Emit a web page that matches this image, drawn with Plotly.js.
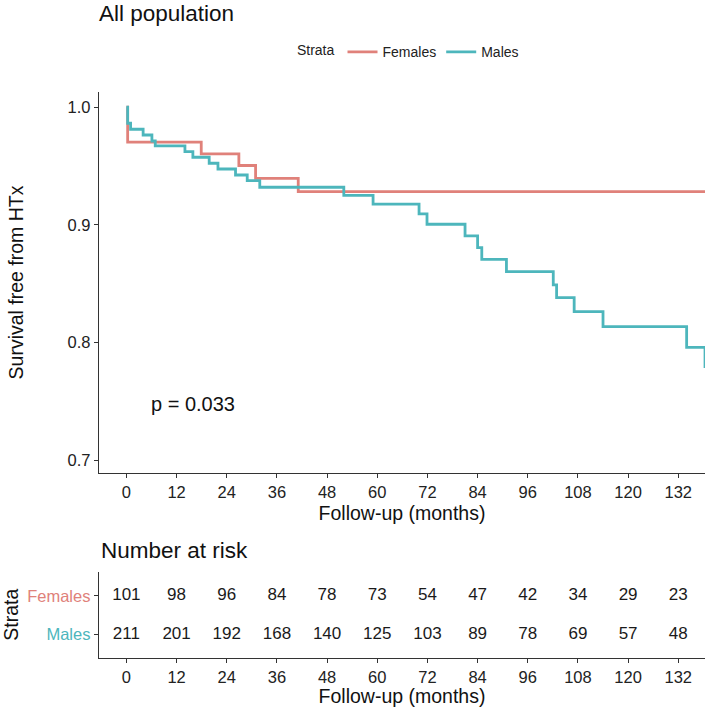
<!DOCTYPE html>
<html>
<head>
<meta charset="utf-8">
<script src="https://cdn.plot.ly/plotly-3.0.1.min.js"></script>
<style>html,body{margin:0;padding:0;background:#fff;}#chart{width:709px;height:707px;}</style>
</head>
<body>
<div id="chart"></div>
<script>
// Kaplan-Meier step data (time in months, survival after event)
const femTime = [0, 0.3, 17.9, 26.9, 30.9, 41.1, 138.5];
const femSurv = [1.0, 0.9703, 0.9604, 0.9505, 0.9396, 0.9282, 0.9282];

const maleTime = [0, 0.3, 1.0, 4.0, 6.1, 6.9, 14.0, 15.9, 19.8, 21.9, 26.1, 28.9, 31.9, 52.0, 59.0, 70.0, 71.9, 81.0, 84.0, 85.0, 90.9, 102.1, 102.9, 107.1, 114.0, 134.0, 138.4, 138.5];
const maleSurv = [1.0, 0.9864, 0.9813, 0.9764, 0.9713, 0.9671, 0.9622, 0.9575, 0.9524, 0.9475, 0.9424, 0.9376, 0.932, 0.925, 0.9177, 0.9093, 0.9005, 0.8906, 0.8806, 0.8707, 0.8602, 0.8489, 0.8381, 0.8262, 0.8134, 0.7959, 0.7794, 0.7794];

// Number at risk table
const riskTimes = [0, 12, 24, 36, 48, 60, 72, 84, 96, 108, 120, 132];
const riskFemales = [101, 98, 96, 84, 78, 73, 54, 47, 42, 34, 29, 23];
const riskMales = [211, 201, 192, 168, 140, 125, 103, 89, 78, 69, 57, 48];

const strataNames = ["Females", "Males"];
const yTickVals = [0.7, 0.8, 0.9, 1.0];
const yTickText = ["0.7", "0.8", "0.9", "1.0"];
const pText = "p = 0.033";

const colF = "#E0817A";
const colM = "#4DB6BC";
const font = "Liberation Sans, Arial, sans-serif";
const axCol = "#333333";
const tickFont = {family: font, size: 16.5, color: "#222"};
const axTitleFont = {family: font, size: 19.5, color: "#111"};

const traces = [
  {x: femTime, y: femSurv, type: "scatter", mode: "lines", line: {shape: "hv", color: colF, width: 2.8},
   name: strataNames[0], xaxis: "x", yaxis: "y"},
  {x: maleTime, y: maleSurv, type: "scatter", mode: "lines", line: {shape: "hv", color: colM, width: 2.8},
   name: strataNames[1], xaxis: "x", yaxis: "y"},
  {x: riskTimes, y: riskTimes.map(() => 2), text: riskFemales.map(String), type: "scatter", mode: "text",
   textfont: {family: font, size: 17, color: "#1a1a1a"}, showlegend: false, xaxis: "x2", yaxis: "y2", hoverinfo: "skip"},
  {x: riskTimes, y: riskTimes.map(() => 1), text: riskMales.map(String), type: "scatter", mode: "text",
   textfont: {family: font, size: 17, color: "#1a1a1a"}, showlegend: false, xaxis: "x2", yaxis: "y2", hoverinfo: "skip"}
];

const xCommon = {
  range: [-6.56, 138.4], tickvals: riskTimes, ticktext: riskTimes.map(String),
  showline: true, linecolor: axCol, linewidth: 1.2, ticks: "outside", ticklen: 4, tickcolor: axCol,
  showgrid: false, zeroline: false, tickfont: tickFont
};

const layout = {
  width: 709, height: 707,
  margin: {l: 0, r: 0, t: 0, b: 0},
  paper_bgcolor: "#fff", plot_bgcolor: "#fff",
  font: {family: font, color: "#222"},
  showlegend: true,
  legend: {orientation: "h", x: 0.416, xanchor: "left", y: 0.926, yanchor: "middle",
    title: {text: "Strata", font: {family: font, size: 14, color: "#222"}},
    font: {family: font, size: 14, color: "#222"}, itemwidth: 30, tracegroupgap: 0},
  title: {text: "All population", x: 0.1395, xanchor: "left", y: 0.982, yanchor: "middle",
    font: {family: font, size: 22.5, color: "#111"}},
  xaxis: Object.assign({}, xCommon, {domain: [0.1396, 0.9944], anchor: "y",
    title: {text: "Follow-up (months)", font: axTitleFont, standoff: 6}}),
  yaxis: {domain: [0.331, 0.8699], anchor: "x", range: [0.689, 1.013],
    tickvals: yTickVals, ticktext: yTickText,
    showline: true, linecolor: axCol, linewidth: 1.2, ticks: "outside", ticklen: 4, tickcolor: axCol,
    showgrid: false, zeroline: false, tickfont: tickFont,
    title: {text: "Survival free from HTx", font: axTitleFont, standoff: 38}},
  xaxis2: Object.assign({}, xCommon, {domain: [0.1396, 0.9944], anchor: "y2",
    title: {text: "Follow-up (months)", font: axTitleFont, standoff: 4}}),
  yaxis2: {domain: [0.0697, 0.1914], anchor: "x2", range: [0.389, 2.634],
    tickvals: [2, 1],
    ticktext: ['<span style="color:' + colF + '">' + strataNames[0] + '</span>',
               '<span style="color:' + colM + '">' + strataNames[1] + '</span>'],
    showline: true, linecolor: axCol, linewidth: 1.2, ticks: "outside", ticklen: 4, tickcolor: axCol,
    showgrid: false, zeroline: false, tickfont: {family: font, size: 16.5},
    title: {text: "Strata", font: axTitleFont, standoff: 4}},
  annotations: [
    {text: pText, x: 5.5, y: 0.748, xref: "x", yref: "y", xanchor: "left", yanchor: "middle",
     showarrow: false, font: {family: font, size: 20, color: "#111"}},
    {text: "Number at risk", x: 0.139, y: 0.221, xref: "paper", yref: "paper", xanchor: "left", yanchor: "middle",
     showarrow: false, font: {family: font, size: 22.5, color: "#111"}}
  ]
};

Plotly.newPlot("chart", traces, layout, {displayModeBar: false, staticPlot: true});
</script>
</body>
</html>
